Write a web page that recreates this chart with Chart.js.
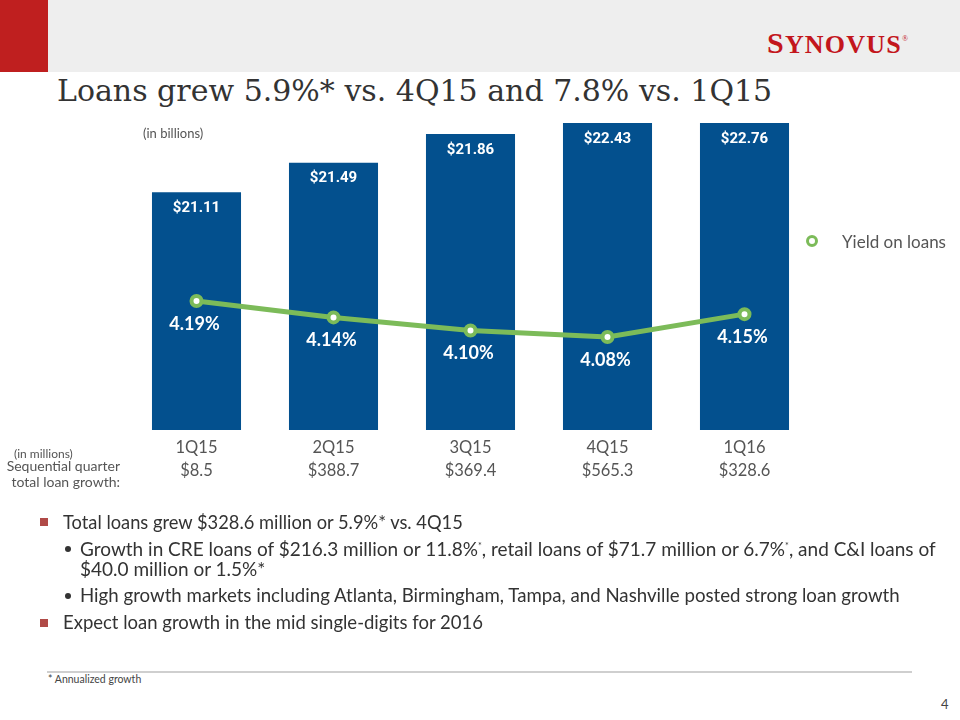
<!DOCTYPE html>
<html>
<head>
<meta charset="utf-8">
<script src="https://cdn.jsdelivr.net/npm/chart.js@4.4.0/dist/chart.umd.min.js"></script>
<style>
  html, body { margin: 0; padding: 0; background: #fff; }
  body { width: 960px; height: 720px; position: relative; overflow: hidden; font-family: "Lato", sans-serif; color: #3a3a3a; }
  .abs { position: absolute; white-space: nowrap; }
  #band { left: 0; top: 0; width: 960px; height: 72px; background: #eeeeee; }
  #redBlock { left: 0; top: 0; width: 48px; height: 72px; background: #bf1f1f; }
  #logo { left: 767px; top: 24px; font-family: "Liberation Serif", serif; font-weight: bold; font-size: 26px; color: #c3161c; letter-spacing: 1.2px; line-height: 30px; }
  #logo .big { font-size: 30px; }
  #logo sup { font-size: 8px; font-weight: normal; vertical-align: 12px; margin-left: 0; }
  #title { left: 57px; top: 74px; font-family: "DejaVu Serif", serif; font-size: 30px; line-height: 34px; color: #333; }
  #chartWrap { left: 0; top: 100px; width: 960px; height: 400px; }
  #inBillions { left: 143px; top: 125px; font-size: 13px; color: #555; }
  #inMillions { left: 14px; top: 446px; font-size: 12px; color: #555; }
  #seqLabel { left: 0; width: 120px; top: 458px; font-size: 14px; line-height: 16px; text-align: right; color: #555; white-space: normal; }
  #legend { left: 806px; top: 232px; font-size: 17px; color: #555; line-height: 20px; }
  #legend .mark { display: inline-block; width: 6px; height: 6px; border: 3px solid #7cbb59; border-radius: 50%; background: #fff; margin-right: 24px; vertical-align: 1px; }
  .bul { font-size: 18.3px; line-height: 20px; color: #333; }
  .sub { font-size: 19px; line-height: 20px; color: #333; }
  .sq { position: absolute; width: 8px; height: 8px; background: #b04a47; }
  .dot { position: absolute; width: 6px; height: 6px; background: #333; border-radius: 50%; }
  #rule { left: 47px; top: 671px; width: 865px; height: 2px; background: #cfcfcf; }
  #foot { left: 48px; top: 673px; font-size: 10.5px; color: #444; }
  #page { left: 941px; top: 696px; font-size: 13px; color: #444; }
</style>
</head>
<body>
<div id="band" class="abs"></div>
<div id="redBlock" class="abs"></div>
<div id="logo" class="abs"><span class="big">S</span>YNOVUS<sup>®</sup></div>
<div id="title" class="abs">Loans grew 5.9%* vs. 4Q15 and 7.8% vs. 1Q15</div>

<div id="chartWrap" class="abs"><canvas id="chartCanvas" width="960" height="400"></canvas></div>
<div id="inBillions" class="abs">(in billions)</div>
<div id="inMillions" class="abs">(in millions)</div>
<div id="seqLabel" class="abs">Sequential quarter<br>total loan growth:</div>
<div id="legend" class="abs"><span class="mark"></span>Yield on loans</div>

<div class="sq" style="left:40px; top:518px;"></div>
<div class="abs bul" style="left:63px; top:512px;">Total loans grew $328.6 million or 5.9%* vs. 4Q15</div>
<div class="dot" style="left:65px; top:546px;"></div>
<div class="abs sub" style="left:80px; top:536px;">Growth in CRE loans of $216.3 million or 11.8%<sup style="font-size:9px">*</sup>, retail loans of $71.7 million or 6.7%<sup style="font-size:9px">*</sup>, and C&amp;I loans of<br>$40.0 million or 1.5%*</div>
<div class="dot" style="left:65px; top:593px;"></div>
<div class="abs sub" style="left:80px; top:585px; font-size:18.66px;">High growth markets including Atlanta, Birmingham, Tampa, and Nashville posted strong loan growth</div>
<div class="sq" style="left:40px; top:619px;"></div>
<div class="abs bul" style="left:63px; top:612px; font-size:18.5px;">Expect loan growth in the mid single-digits for 2016</div>

<div id="rule" class="abs"></div>
<div id="foot" class="abs">* Annualized growth</div>
<div id="page" class="abs">4</div>

<script>
const quarters = ["1Q15", "2Q15", "3Q15", "4Q15", "1Q16"];
const totalLoans = [21.11, 21.49, 21.86, 22.43, 22.76];
const loanYield = [4.19, 4.14, 4.10, 4.08, 4.15];
const loanGrowth = ["$8.5", "$388.7", "$369.4", "$565.3", "$328.6"];

const barBlue = "#03508e";
const lineGreen = "#7cbb59";

const valueLabels = {
  id: "valueLabels",
  afterDatasetsDraw(chart) {
    const ctx = chart.ctx;
    const area = chart.chartArea;
    ctx.save();
    ctx.fillStyle = "#ffffff";
    ctx.textAlign = "center";
    ctx.textBaseline = "middle";

    ctx.font = "bold 15px Roboto";
    chart.getDatasetMeta(1).data.forEach((bar, i) => {
      const top = Math.max(bar.y, area.top);
      ctx.fillText("$" + totalLoans[i].toFixed(2), bar.x, top + 16);
    });

    ctx.font = "bold 18px Lato";
    chart.getDatasetMeta(0).data.forEach((pt, i) => {
      ctx.fillText(loanYield[i].toFixed(2) + "%", pt.x - 2, pt.y + 23);
    });
    ctx.restore();
  }
};

const ctx = document.getElementById("chartCanvas").getContext("2d");
new Chart(ctx, {
  data: {
    labels: quarters,
    datasets: [
      {
        type: "line",
        label: "Yield on loans",
        data: loanYield,
        yAxisID: "yYield",
        borderColor: lineGreen,
        borderWidth: 5,
        pointRadius: 5,
        pointBorderWidth: 4,
        pointBackgroundColor: "#ffffff",
        pointBorderColor: lineGreen,
        tension: 0,
        order: 0
      },
      {
        type: "bar",
        label: "Total loans",
        data: totalLoans,
        yAxisID: "yLoans",
        backgroundColor: barBlue,
        categoryPercentage: 1,
        barPercentage: 0.65,
        clip: 0,
        order: 1
      }
    ]
  },
  options: {
    responsive: false,
    animation: false,
    layout: { padding: { left: 128, right: 147, top: 23, bottom: 0 } },
    plugins: {
      legend: { display: false },
      tooltip: { enabled: false }
    },
    scales: {
      x: {
        grid: { display: false },
        border: { display: false },
        ticks: {
          color: "#555555",
          font: { family: "Lato", size: 16.5, lineHeight: 1.4 },
          padding: -2,
          maxRotation: 0,
          callback: (v, i) => [quarters[i], loanGrowth[i]]
        },
        afterFit: scale => { scale.height = 70; }
      },
      yLoans: { display: false, min: 18.05, max: 22.0 },
      yYield: { display: false, min: 3.796, max: 4.734 }
    }
  },
  plugins: [valueLabels]
});
</script>
</body>
</html>
